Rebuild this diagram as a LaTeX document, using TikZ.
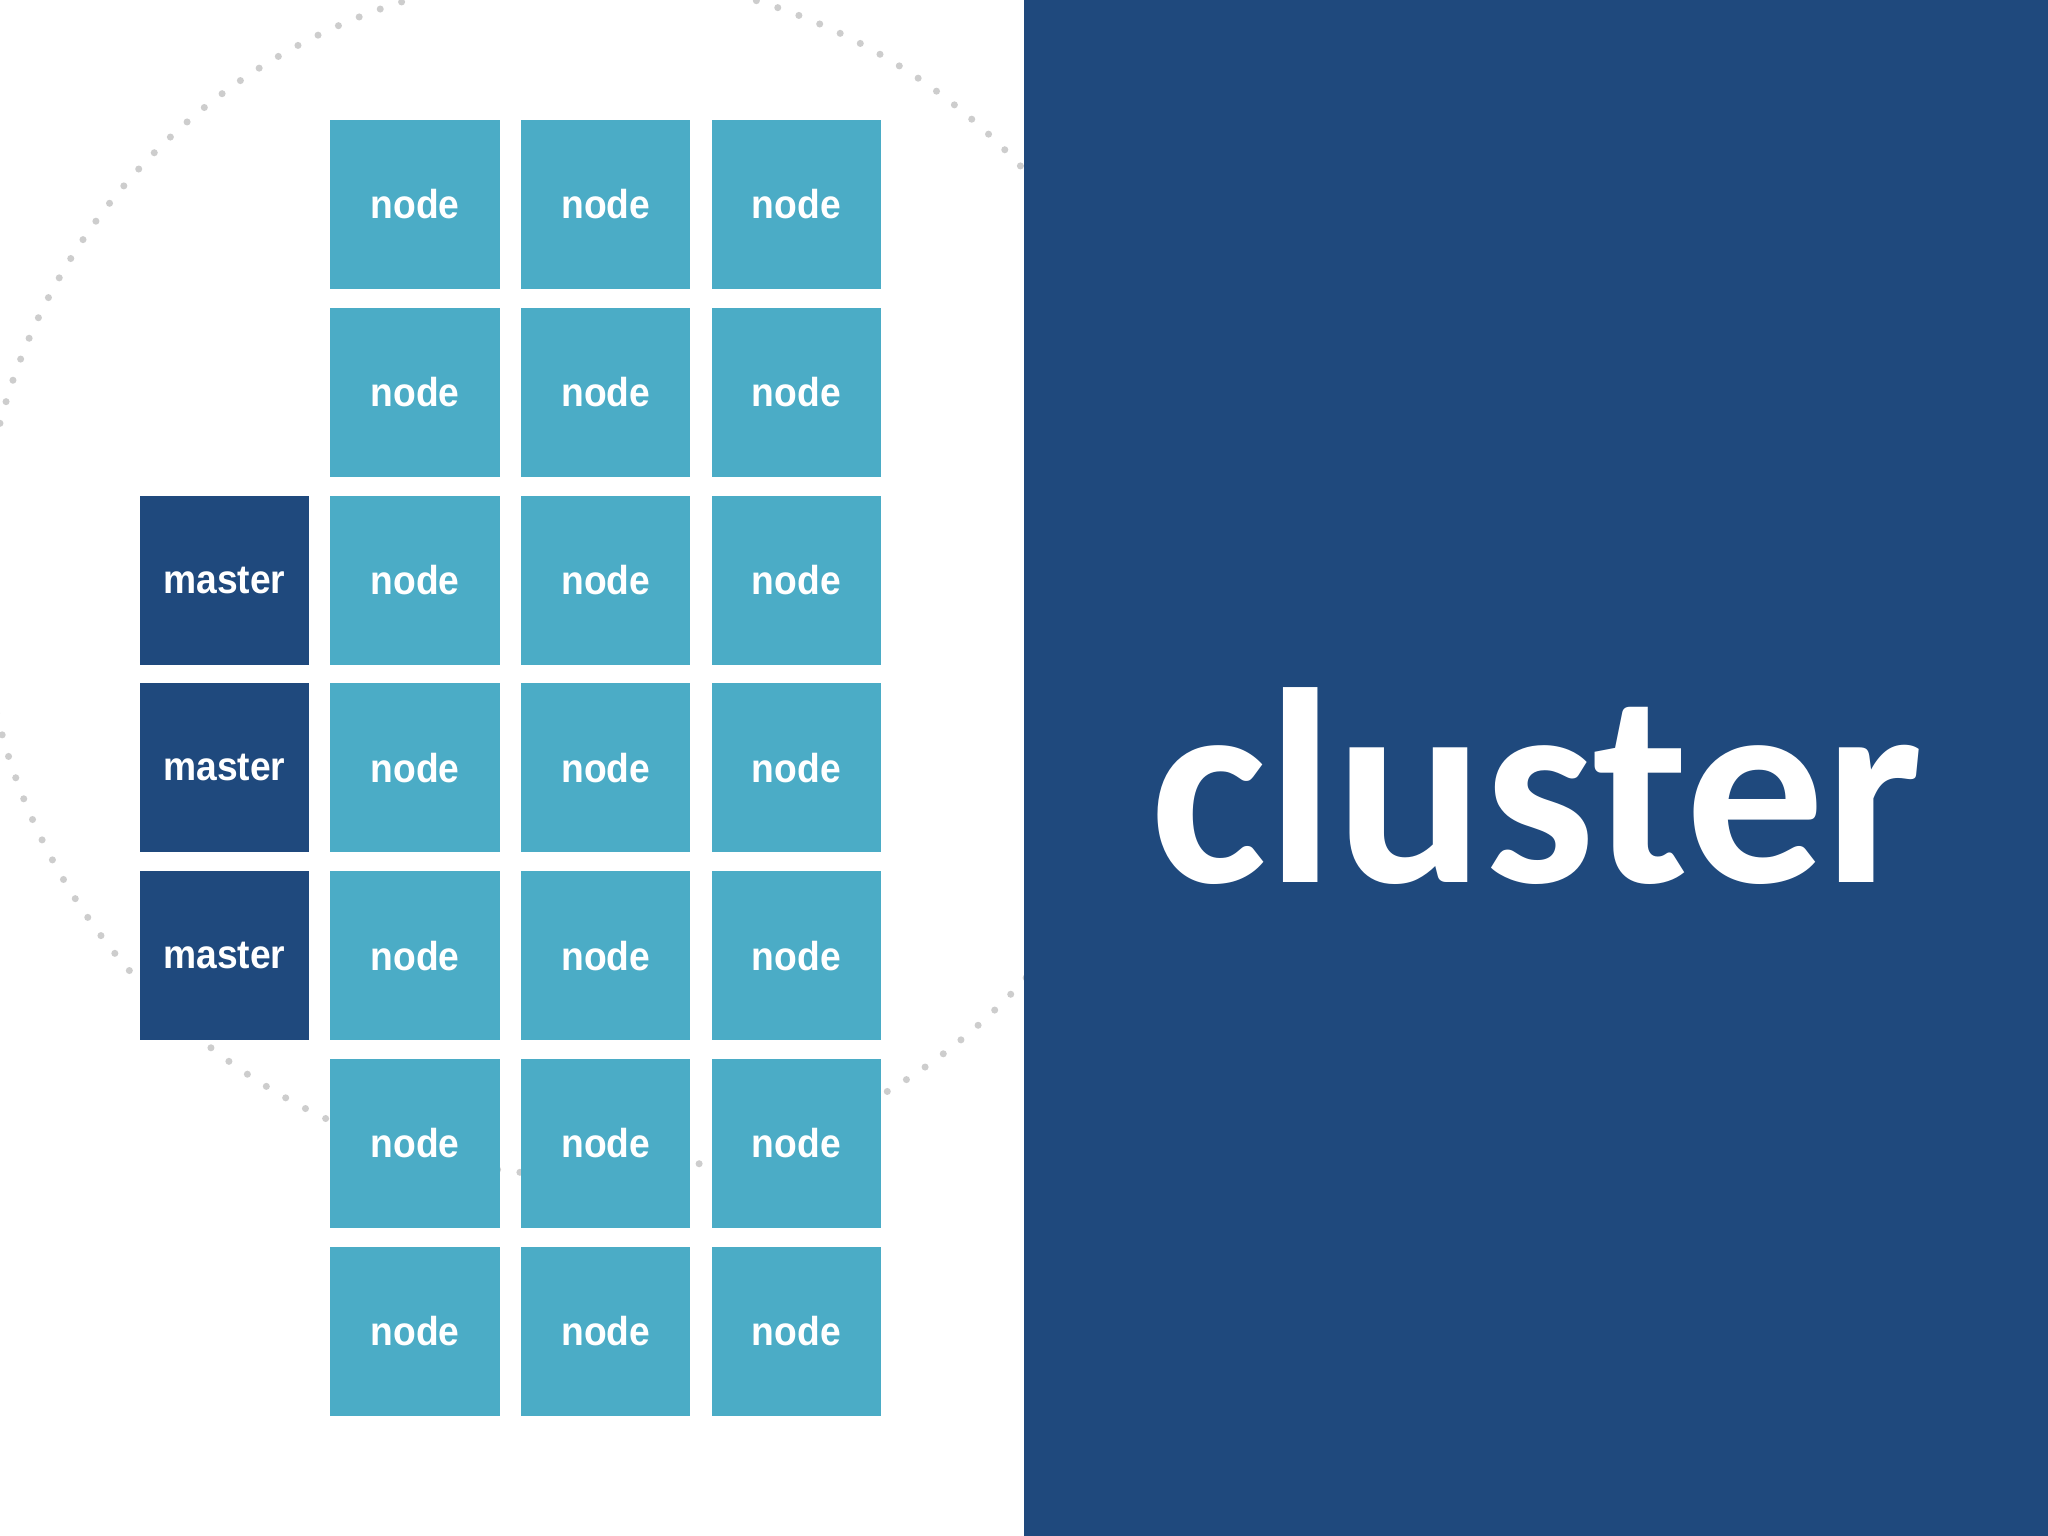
\documentclass[tikz,border=0pt]{standalone}
\usepackage{fontspec}
\setmainfont{Liberation Sans}
\newfontfamily\boxfont{Liberation Sans}[FakeStretch=0.92]
\newfontfamily\clusterfont{Carlito}
\definecolor{nodeblue}{HTML}{4BACC6}
\definecolor{darkblue}{HTML}{1F497D}
\definecolor{dotgray}{HTML}{CDCDCD}
\tikzset{
  box/.style={minimum width=1.69cm, minimum height=1.69cm, inner sep=0pt, text=white,
    font=\boxfont\bfseries\fontsize{11.5}{13}\selectfont},
  workerbox/.style={box, fill=nodeblue},
  masterbox/.style={box, fill=darkblue},
  ring/.style={draw=dotgray, line width=2pt, line cap=round, dash pattern=on 0pt off 6.4pt},
  panel/.style={fill=darkblue, draw=none},
  title/.style={text=white, font=\clusterfont\bfseries\fontsize{79}{90}\selectfont, inner sep=0pt}
}
\begin{document}
\begin{tikzpicture}[x=0.01cm, y=-0.01cm]
\useasboundingbox (0,0) rectangle (2048,1536);
\clip (0,0) rectangle (2048,1536);
\fill[white] (0,0) rectangle (2048,1536);
% dotted ring
\draw[ring] (581,575) circle [radius=6cm];
% worker nodes
\foreach \r in {1,...,7} {
  \foreach \c in {1,2,3} {
    \node[workerbox] (n-\r-\c) at ({415+190.7*(\c-1)}, {204.5+187.8*(\r-1)}) {node};
  }
}
% masters
\foreach \r in {3,4,5} {
  \node[masterbox] (m-\r) at (224.3, {204.5+187.8*(\r-1)}) {master};
}
% right panel
\fill[panel] (1024,0) rectangle (2048,1536);
\node[title] (cluster) at (1537,786) {cluster};
\end{tikzpicture}
\end{document}
